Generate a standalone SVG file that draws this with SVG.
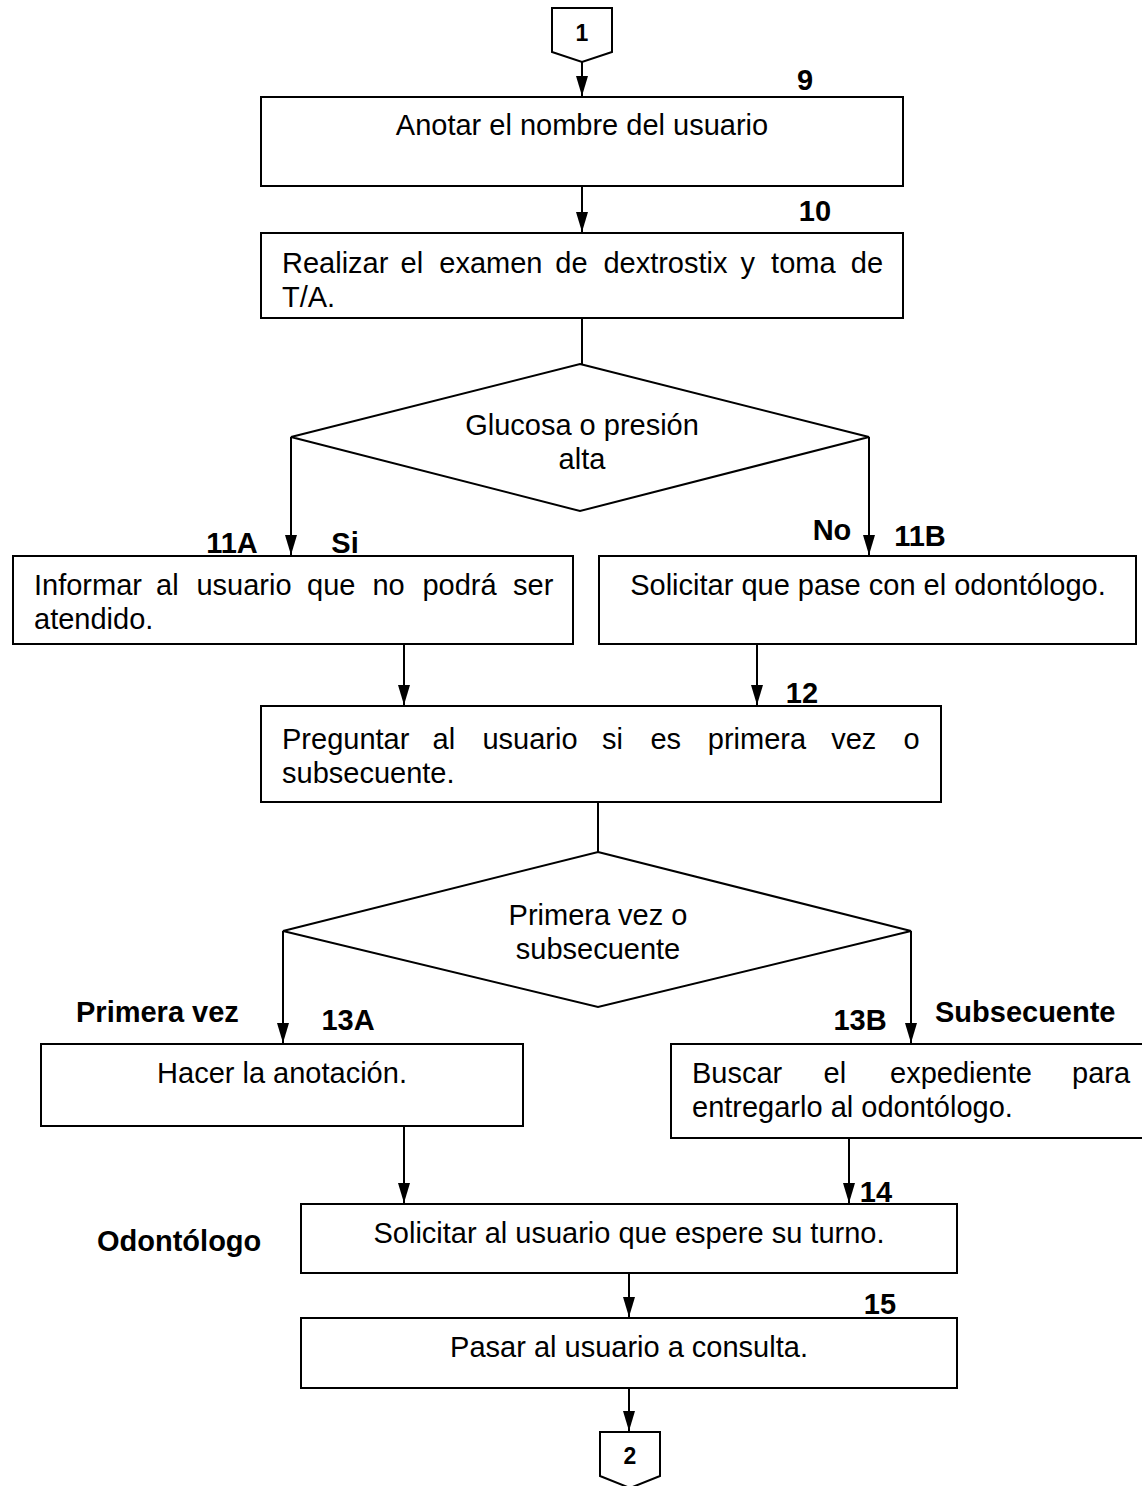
<svg xmlns="http://www.w3.org/2000/svg" width="1142" height="1486" viewBox="0 0 1142 1486">
<style>
.box{fill:#fff;stroke:#000;stroke-width:2}
.ln{fill:none;stroke:#000;stroke-width:2}
.t{font-family:"Liberation Sans",Arial,sans-serif;font-size:29px;fill:#000}
.c{text-anchor:middle}
.b{font-family:"Liberation Sans",Arial,sans-serif;font-size:29px;font-weight:bold;fill:#000}
.n{font-family:"Liberation Sans",Arial,sans-serif;font-size:23px;font-weight:bold;fill:#000;text-anchor:middle}
</style>
<defs>
<marker id="ah" viewBox="0 0 20 12" refX="20" refY="6" markerWidth="20" markerHeight="12" markerUnits="userSpaceOnUse" orient="auto">
<path d="M0,0 L20,6 L0,12 Z" fill="#000"/>
</marker>
</defs>
<rect width="1142" height="1486" fill="#fff"/>

<g id="connectors">
<path class="ln" d="M582,62 V96" marker-end="url(#ah)"/>
<path class="ln" d="M582,186 V232" marker-end="url(#ah)"/>
<path class="ln" d="M582,318 V364"/>
<path class="ln" d="M291,437 V555" marker-end="url(#ah)"/>
<path class="ln" d="M869,437 V555" marker-end="url(#ah)"/>
<path class="ln" d="M404,644 V705" marker-end="url(#ah)"/>
<path class="ln" d="M757,644 V705" marker-end="url(#ah)"/>
<path class="ln" d="M598,802 V852"/>
<path class="ln" d="M283,931 V1043" marker-end="url(#ah)"/>
<path class="ln" d="M911,931 V1043" marker-end="url(#ah)"/>
<path class="ln" d="M404,1126 V1203" marker-end="url(#ah)"/>
<path class="ln" d="M849,1138 V1203" marker-end="url(#ah)"/>
<path class="ln" d="M629,1273 V1317" marker-end="url(#ah)"/>
<path class="ln" d="M629,1388 V1431" marker-end="url(#ah)"/>
</g>

<g id="c1">
<path class="box" d="M552,8 H612 V52 L582,62 L552,52 Z"/>
<text class="n" x="582" y="41">1</text>
</g>

<g id="n9">
<rect class="box" x="261" y="97" width="642" height="89"/>
<text class="t c" x="582" y="135">Anotar el nombre del usuario</text>
<text class="b c" x="805" y="90">9</text>
</g>

<g id="n10">
<rect class="box" x="261" y="233" width="642" height="85"/>
<text class="t" y="273"><tspan x="282">Realizar</tspan><tspan x="400.6">el</tspan><tspan x="439.3">examen</tspan><tspan x="555.3">de</tspan><tspan x="603.4">dextrostix</tspan><tspan x="740.6">y</tspan><tspan x="771.1">toma</tspan><tspan x="850.8">de</tspan></text>
<text class="t" x="282" y="307">T/A.</text>
<text class="b c" x="815" y="221">10</text>
</g>

<g id="d1">
<polygon class="box" points="580,364 869,437 580,511 291,437"/>
<text class="t c" x="582" y="435">Glucosa o presión</text>
<text class="t c" x="582" y="469">alta</text>
<text class="b c" x="232" y="553">11A</text>
<text class="b c" x="345" y="553">Si</text>
<text class="b c" x="832" y="540">No</text>
<text class="b c" x="920" y="546">11B</text>
</g>

<g id="n11a">
<rect class="box" x="13" y="556" width="560" height="88"/>
<text class="t" y="595"><tspan x="34">Informar</tspan><tspan x="156">al</tspan><tspan x="196.4">usuario</tspan><tspan x="307">que</tspan><tspan x="372.4">no</tspan><tspan x="422.4">podrá</tspan><tspan x="513">ser</tspan></text>
<text class="t" x="34" y="629">atendido.</text>
</g>

<g id="n11b">
<rect class="box" x="599" y="556" width="537" height="88"/>
<text class="t c" x="868" y="595">Solicitar que pase con el odontólogo.</text>
</g>

<g id="n12">
<rect class="box" x="261" y="706" width="680" height="96"/>
<text class="t" y="749"><tspan x="282">Preguntar</tspan><tspan x="432.6">al</tspan><tspan x="482.4">usuario</tspan><tspan x="602">si</tspan><tspan x="650.4">es</tspan><tspan x="707.8">primera</tspan><tspan x="831.2">vez</tspan><tspan x="903.6">o</tspan></text>
<text class="t" x="282" y="783">subsecuente.</text>
<text class="b c" x="802" y="703">12</text>
</g>

<g id="d2">
<polygon class="box" points="598,852 911,931 598,1007 283,931"/>
<text class="t c" x="598" y="925">Primera vez o</text>
<text class="t c" x="598" y="959">subsecuente</text>
<text class="b" x="76" y="1022">Primera vez</text>
<text class="b c" x="348" y="1030">13A</text>
<text class="b c" x="860" y="1030">13B</text>
<text class="b" x="935" y="1022">Subsecuente</text>
</g>

<g id="n13a">
<rect class="box" x="41" y="1044" width="482" height="82"/>
<text class="t c" x="282" y="1083">Hacer la anotación.</text>
</g>

<g id="n13b">
<rect class="box" x="671" y="1044" width="480" height="94"/>
<text class="t" y="1083"><tspan x="692">Buscar</tspan><tspan x="823.5">el</tspan><tspan x="890">expediente</tspan><tspan x="1072">para</tspan></text>
<text class="t" x="692" y="1117">entregarlo al odontólogo.</text>
</g>

<g id="n14">
<rect class="box" x="301" y="1204" width="656" height="69"/>
<text class="t c" x="629" y="1243">Solicitar al usuario que espere su turno.</text>
<text class="b c" x="876" y="1202">14</text>
<text class="b" x="97" y="1251">Odontólogo</text>
</g>

<g id="n15">
<rect class="box" x="301" y="1318" width="656" height="70"/>
<text class="t c" x="629" y="1357">Pasar al usuario a consulta.</text>
<text class="b c" x="880" y="1314">15</text>
</g>

<g id="c2">
<path class="box" d="M600,1432 H660 V1476 L630,1488 L600,1476 Z"/>
<text class="n" x="630" y="1464">2</text>
</g>
</svg>
